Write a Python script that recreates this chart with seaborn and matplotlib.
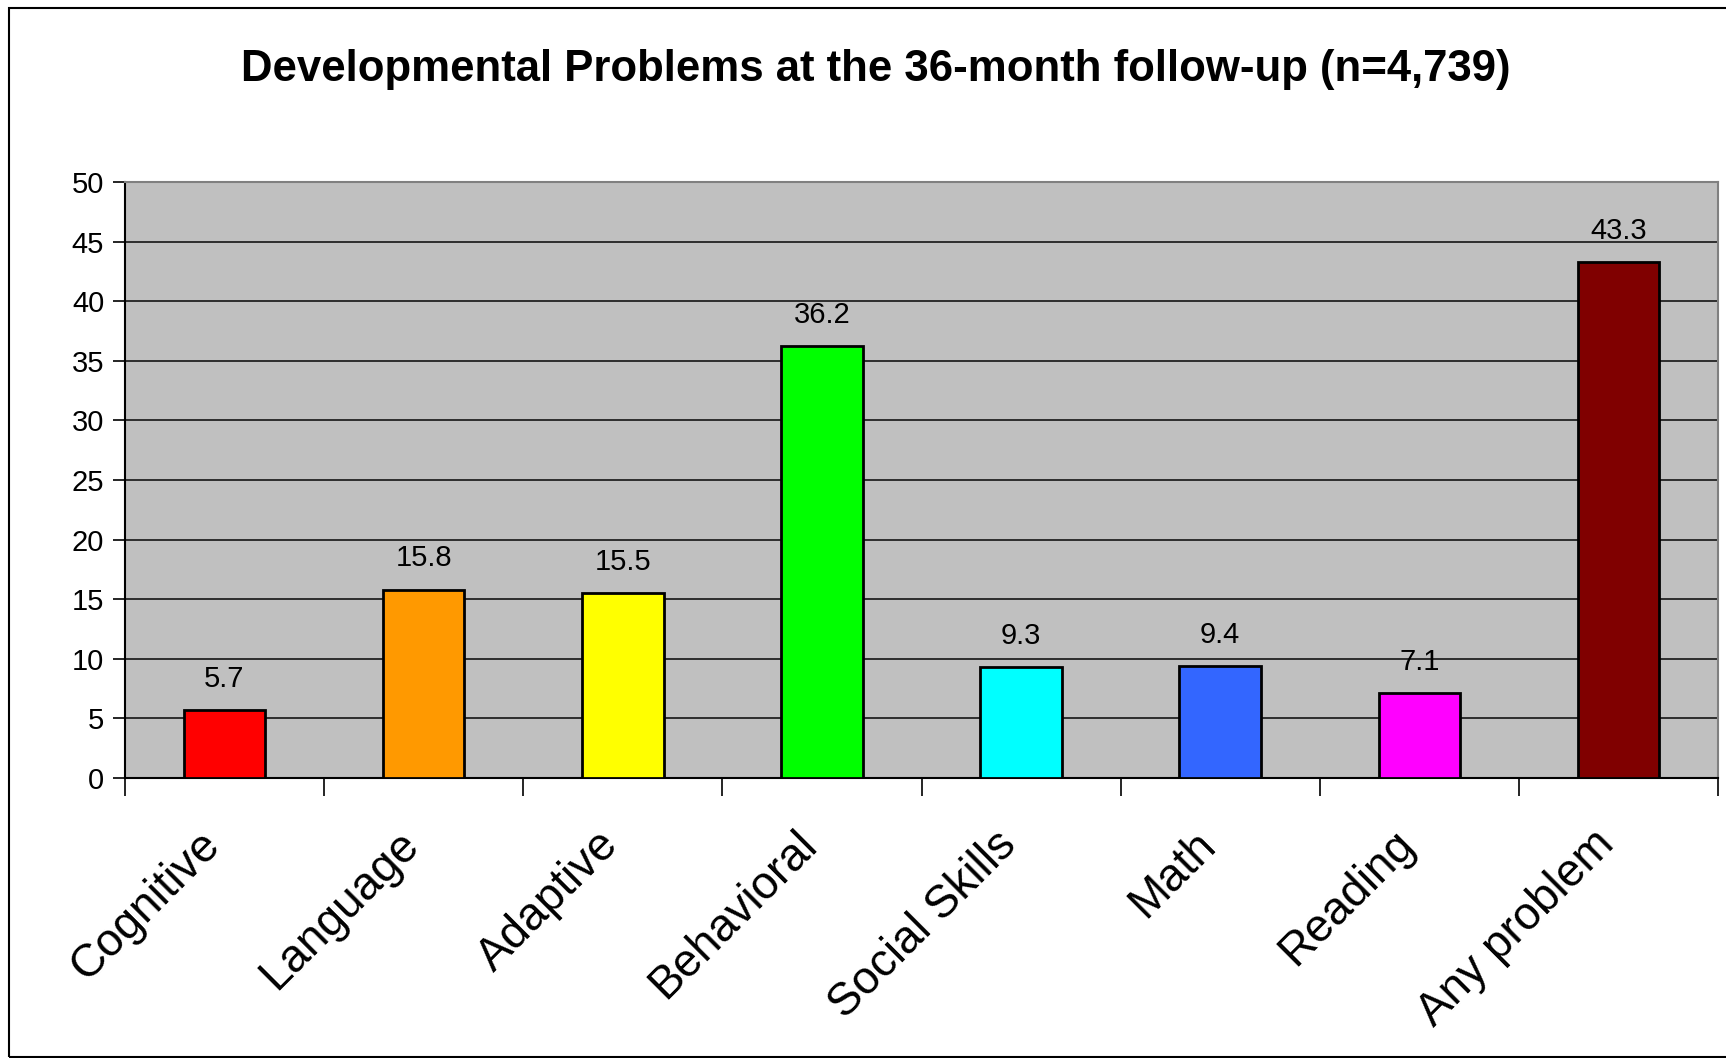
import matplotlib
matplotlib.use("Agg")
import matplotlib.pyplot as plt
import matplotlib.transforms as mtransforms
import seaborn as sns
import pandas as pd
from matplotlib.patches import Rectangle

# dados do gráfico
categorias = ['Cognitive', 'Language', 'Adaptive', 'Behavioral',
              'Social Skills', 'Math', 'Reading', 'Any problem']
percentuais = [5.7, 15.8, 15.5, 36.2, 9.3, 9.4, 7.1, 43.3]
cores = ['#FF0000', '#FF9900', '#FFFF00', '#00FF00',
         '#00FFFF', '#3366FF', '#FF00FF', '#800000']
titulo = 'Developmental Problems at the 36-month follow-up (n=4,739)'

df = pd.DataFrame({'categoria': categorias, 'valor': percentuais})

sns.set_style('white')
plt.rcParams['font.family'] = ['Liberation Sans', 'DejaVu Sans']
plt.rcParams['text.color'] = 'black'
plt.rcParams['xtick.color'] = 'black'
plt.rcParams['ytick.color'] = 'black'

fig = plt.figure(figsize=(17.26, 10.58), dpi=100)
ax = fig.add_axes([0.0724, 0.2647, 0.9230, 0.5633])
ax.set_facecolor('#C0C0C0')

sns.barplot(data=df, x='categoria', y='valor', hue='categoria',
            palette=cores, legend=False, width=0.41,
            edgecolor='black', linewidth=2, saturation=1, ax=ax, zorder=3)

# rótulos acima das barras
for i, v in enumerate(percentuais):
    ax.text(i, v + 1.45, f'{v}', ha='center', va='bottom', fontsize=21,
            color='black', zorder=4)

ax.set_ylim(0, 50)
ax.set_xlim(-0.5, len(categorias) - 0.5)
ax.set_yticks(range(0, 51, 5))
ax.yaxis.grid(True, color='#222222', linewidth=1.3, zorder=0)
ax.set_axisbelow(True)

# ticks do eixo x nas fronteiras entre categorias
ax.set_xticks(range(len(categorias)))
ax.set_xticklabels(categorias, rotation=45, ha='right', rotation_mode='anchor',
                   fontsize=33, color='black')
ax.set_xticks([i - 0.5 for i in range(len(categorias) + 1)], minor=True)
ax.tick_params(axis='x', which='major', length=0, pad=32)
ax.tick_params(axis='x', which='minor', length=13, width=1.2, color='black',
               bottom=True)
ax.tick_params(axis='y', length=9, width=1.2, color='black', left=True,
               labelsize=21, labelcolor='black', pad=6)
desloc = mtransforms.ScaledTranslation(-0.27, 0, fig.dpi_scale_trans)
for lbl in ax.get_xticklabels():
    lbl.set_transform(lbl.get_transform() + desloc)

ax.set_xlabel('')
ax.set_ylabel('')
fig.text(876 / 1726, 1 - 69 / 1058, titulo, ha='center', va='center',
         fontsize=31.5, fontweight='bold', color='black')

for s in ['left', 'bottom']:
    ax.spines[s].set_color('black')
    ax.spines[s].set_linewidth(1.5)
for s in ['top', 'right']:
    ax.spines[s].set_color('#808080')
    ax.spines[s].set_linewidth(1.5)

# moldura da figura
fig.patches.append(Rectangle((9 / 1726, 1 / 1058), 1.0, 1 - 9 / 1058,
                             transform=fig.transFigure, fill=False,
                             edgecolor='black', linewidth=1.5))

fig.savefig('out.png', dpi=100)
